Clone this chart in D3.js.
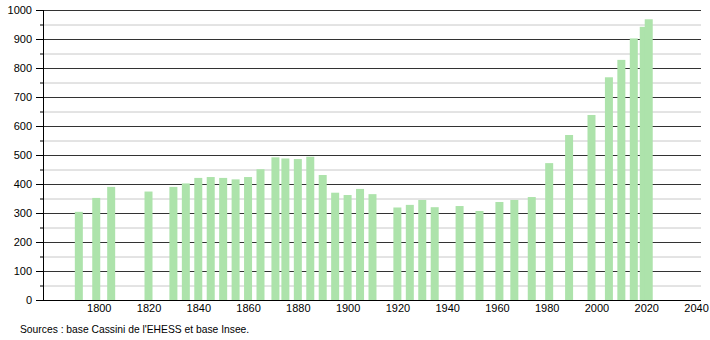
<!DOCTYPE html>
<html>
<head>
<meta charset="utf-8">
<script src="https://cdn.jsdelivr.net/npm/d3@7"></script>
<style>
  body { margin: 0; background: #fff; }
  text { font-family: "Liberation Sans", Arial, sans-serif; }
</style>
</head>
<body>
<div id="chart"></div>
<script>
// census years and population
const years = [1793, 1800, 1806, 1821, 1831, 1836, 1841, 1846, 1851, 1856, 1861, 1866,
  1872, 1876, 1881, 1886, 1891, 1896, 1901, 1906, 1911, 1921, 1926, 1931, 1936,
  1946, 1954, 1962, 1968, 1975, 1982, 1990, 1999, 2006, 2011, 2016, 2020, 2022];
const population = [304, 352, 390, 374, 390, 402, 421, 424, 421, 416, 424, 451,
  492, 488, 486, 494, 431, 370, 362, 383, 365, 319, 328, 345, 320,
  324, 307, 338, 345, 355, 472, 569, 638, 768, 828, 902, 942, 968];
const xTicks = [1800, 1820, 1840, 1860, 1880, 1900, 1920, 1940, 1960, 1980, 2000, 2020, 2040];
const yMajor = [0, 100, 200, 300, 400, 500, 600, 700, 800, 900, 1000];
const yMinor = [50, 150, 250, 350, 450, 550, 650, 750, 850, 950];
const source = "Sources : base Cassini de l'EHESS et base Insee.";

// set the dimensions and margins of the graph
const W = 710, H = 340;
const margin = {top: 10, right: 9, bottom: 40, left: 44},
    width = W - margin.left - margin.right,
    height = H - margin.top - margin.bottom;

const svg = d3.select("#chart")
  .append("svg")
    .attr("width", W)
    .attr("height", H)
  .append("g")
    .attr("transform", `translate(${margin.left},${margin.top})`);

const x = d3.scaleLinear()
    .domain([1778, 2042])
    .range([0, width]);

const y = d3.scaleLinear()
    .domain([0, 1000])
    .range([height, 0]);

// light grid lines every 50
svg.selectAll(".minor")
  .data(yMinor)
  .join("line")
    .attr("x1", 0).attr("x2", width)
    .attr("y1", d => y(d) + 0.5).attr("y2", d => y(d) + 0.5)
    .attr("stroke", "#c8c8c8");

// dark grid lines every 100
svg.selectAll(".major")
  .data(yMajor.slice(1))
  .join("line")
    .attr("x1", 0).attr("x2", width)
    .attr("y1", d => y(d) + 0.5).attr("y2", d => y(d) + 0.5)
    .attr("stroke", "#333");

// bars
const barW = 8;
svg.selectAll(".bar")
  .data(years.map((yr, i) => ({year: yr, value: population[i]})))
  .join("rect")
    .attr("x", d => x(d.year) - 2.5 - barW / 2)
    .attr("y", d => y(d.value))
    .attr("width", barW)
    .attr("height", d => height - y(d.value))
    .style("fill", "#ade3ab");

// Y axis with minor ticks
const yAxis = svg.append("g")
    .call(d3.axisLeft(y).tickValues(yMajor).tickSize(8).tickPadding(4).tickFormat(d3.format("d")));
yAxis.select(".domain").remove();
yAxis.selectAll(".tick line").attr("stroke", "#000");
yAxis.selectAll("text").style("font-size", "11px").attr("fill", "#000");
svg.selectAll(".minortick")
  .data(yMinor)
  .join("line")
    .attr("x1", -4).attr("x2", 0)
    .attr("y1", d => y(d) + 0.5).attr("y2", d => y(d) + 0.5)
    .attr("stroke", "#000");
svg.append("line")
    .attr("x1", -0.5).attr("x2", -0.5)
    .attr("y1", 0).attr("y2", height)
    .attr("stroke", "#000");

// X axis: labels only
const xAxis = svg.append("g")
    .attr("transform", `translate(0,${height})`)
    .call(d3.axisBottom(x).tickValues(xTicks).tickSize(0).tickPadding(4).tickFormat(d3.format("d")));
xAxis.select(".domain").remove();
xAxis.selectAll("text").style("font-size", "11px").attr("fill", "#000");
svg.append("line")
    .attr("x1", -8).attr("x2", width)
    .attr("y1", height + 0.5).attr("y2", height + 0.5)
    .attr("stroke", "#000");

// source note
svg.append("text")
    .attr("x", 20 - margin.left)
    .attr("y", 333 - margin.top)
    .style("font-size", "10.3px")
    .text(source);
</script>
</body>
</html>
